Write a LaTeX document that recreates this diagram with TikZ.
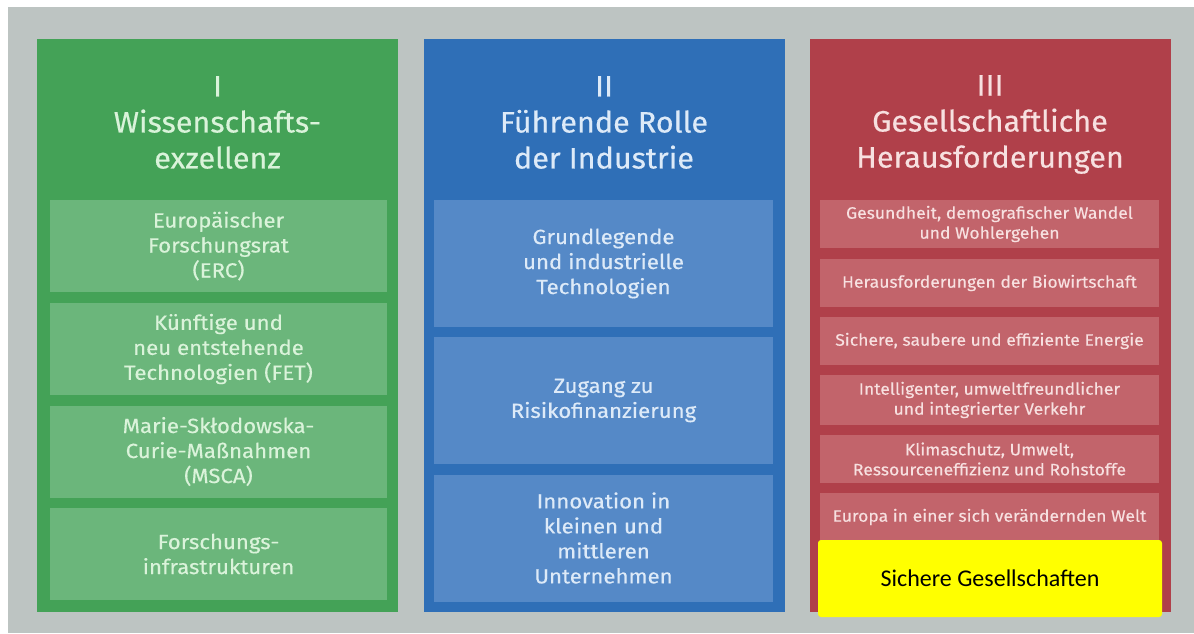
\documentclass[tikz,border=0pt]{standalone}
\usepackage{fontspec}
\setmainfont{Fira Sans}
\newfontfamily\titlefont{Fira Sans}[FakeStretch=1.035,FakeBold=0.4]
\newfontfamily\subfont{Fira Sans}[FakeStretch=1.083,FakeBold=0.4]
\newfontfamily\smallfont{Fira Sans}[FakeStretch=1.063,FakeBold=0.3]
\newfontfamily\calibrifont{Carlito}
\definecolor{bggray}{HTML}{BDC4C2}
\definecolor{colgreen}{HTML}{44A257}
\definecolor{subgreen}{HTML}{6BB67B}
\definecolor{txtgreen}{HTML}{DAF3DA}
\definecolor{colblue}{HTML}{2F6FB7}
\definecolor{subblue}{HTML}{5589C7}
\definecolor{txtblue}{HTML}{DDEAF8}
\definecolor{colred}{HTML}{B0404A}
\definecolor{subred}{HTML}{C2646B}
\definecolor{txtred}{HTML}{F7E0E0}
\definecolor{hlyellow}{HTML}{FFFF00}
\begin{document}
\begin{tikzpicture}[x=1pt,y=-1pt,
  column/.style={rectangle,draw=none,inner sep=0pt,minimum width=361pt,minimum height=573pt},
  coltitle/.style={align=center,inner sep=0pt,font=\titlefont\fontsize{29.5}{36}\selectfont},
  bigsub/.style={rectangle,draw=none,inner sep=0pt,align=center,font=\subfont\fontsize{20.5}{25}\selectfont},
  smallsub/.style={rectangle,draw=none,inner sep=0pt,align=center,minimum width=339pt,minimum height=48pt,fill=subred,text=txtred,font=\smallfont\fontsize{16.5}{20}\selectfont},
  gsub/.style={bigsub,minimum width=337pt,minimum height=92pt,fill=subgreen,text=txtgreen},
  bsub/.style={bigsub,minimum width=339pt,minimum height=127pt,fill=subblue,text=txtblue},
  hlbox/.style={rectangle,rounded corners=3pt,fill=hlyellow,inner sep=0pt,minimum width=344pt,minimum height=77pt,font=\calibrifont\fontsize{24}{26}\selectfont,text=black}
]
\useasboundingbox (0,0) rectangle (1194,633);
\fill[white] (0,0) rectangle (1194,633);
\fill[bggray] (8,7) rectangle (1194,633);

% columns
\node[column,fill=colgreen] (colI) at (217.5,325.5) {};
\node[column,fill=colblue] (colII) at (604,325.5) {};
\node[column,fill=colred] (colIII) at (990,325.5) {};

% titles
\node[coltitle,text=txtgreen] (tI) at (217.5,122.5) {I\\Wissenschafts-\\exzellenz};
\node[coltitle,text=txtblue] (tII) at (604,122.5) {II\\Führende Rolle\\der Industrie};
\node[coltitle,text=txtred] (tIII) at (990,124.5) {III\\Gesellschaftliche\\Herausforderungen};

% green sub boxes
\node[gsub] (g1) at (218.5,246) {Europäischer\\Forschungsrat\\(ERC)};
\node[gsub] (g2) at (218.5,349) {Künftige und\\neu entstehende\\Technologien (FET)};
\node[gsub] (g3) at (218.5,451.5) {Marie-Skłodowska-\\Curie-Maßnahmen\\(MSCA)};
\node[gsub] (g4) at (218.5,554) {Forschungs-\\infrastrukturen};

% blue sub boxes
\node[bsub] (b1) at (603.5,263.5) {Grundlegende\\und industrielle\\Technologien};
\node[bsub] (b2) at (603.5,400.5) {Zugang zu\\Risikofinanzierung};
\node[bsub] (b3) at (603.5,538) {Innovation in\\kleinen und\\mittleren\\Unternehmen};

% red sub boxes
\node[smallsub] (r1) at (989.5,224) {Gesundheit, demografischer Wandel\\und Wohlergehen};
\node[smallsub] (r2) at (989.5,283) {Herausforderungen der Biowirtschaft};
\node[smallsub] (r3) at (989.5,341) {Sichere, saubere und effiziente Energie};
\node[smallsub,minimum height=50pt] (r4) at (989.5,400) {Intelligenter, umweltfreundlicher\\und integrierter Verkehr};
\node[smallsub] (r5) at (989.5,459) {Klimaschutz, Umwelt,\\Ressourceneffizienz und Rohstoffe};
\node[smallsub] (r6) at (989.5,517) {Europa in einer sich verändernden Welt};

% highlighted box
\node[hlbox] (r7) at (990,578.5) {Sichere Gesellschaften};
\end{tikzpicture}
\end{document}
